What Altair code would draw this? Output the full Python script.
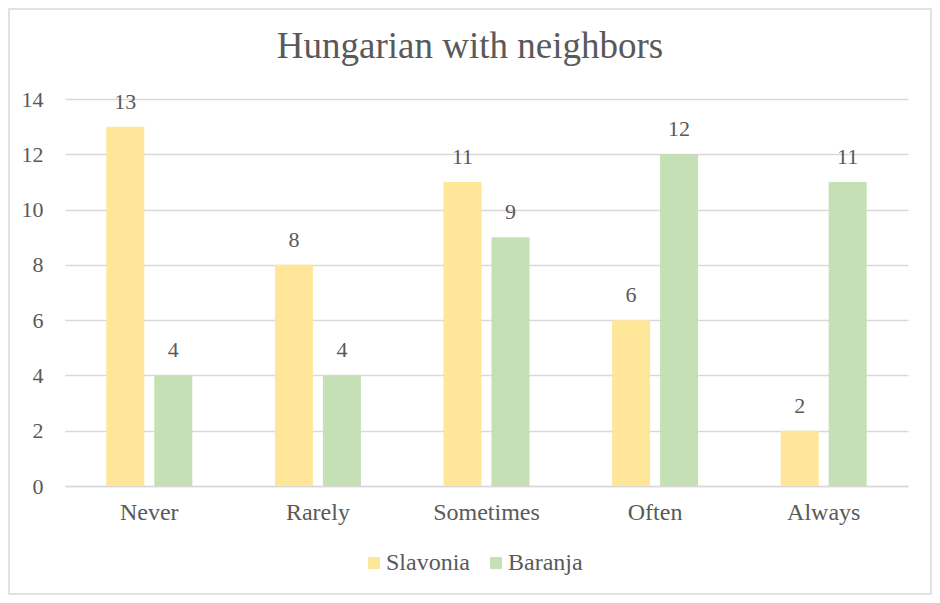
import altair as alt
import pandas as pd

categories = ["Never", "Rarely", "Sometimes", "Often", "Always"]
series = ["Slavonia", "Baranja"]
slavonia = [13, 8, 11, 6, 2]
baranja = [4, 4, 9, 12, 11]
colors = ["#FFE699", "#C5E0B4"]
title_text = "Hungarian with neighbors"

rows = []
for c, s, b in zip(categories, slavonia, baranja):
    rows.append({"cat": c, "series": "Slavonia", "value": s})
    rows.append({"cat": c, "series": "Baranja", "value": b})
df = pd.DataFrame(rows)

W, H = 843, 387
FONT = "Liberation Serif"
GREY = "#595959"

xenc = alt.X("cat:N", sort=categories, title=None,
             scale=alt.Scale(paddingInner=0.49, paddingOuter=0.245),
             axis=alt.Axis(labelAngle=0, ticks=False, domain=True, domainColor="#d9d9d9",
                           domainWidth=1.5,
                           labelFontSize=24, labelFont=FONT, labelColor=GREY, labelPadding=14))
xoff = alt.XOffset("series:N", sort=series,
                   scale=alt.Scale(paddingInner=0.208, paddingOuter=0))
yenc = alt.Y("value:Q", title=None,
             scale=alt.Scale(domain=[0, 14]),
             axis=alt.Axis(values=list(range(0, 15, 2)), ticks=False, domain=False,
                           grid=True, gridColor="#d9d9d9", gridWidth=1.5,
                           labelFontSize=22, labelFont=FONT, labelColor=GREY, labelPadding=22))

base = alt.Chart(df)
bars = base.mark_bar().encode(
    x=xenc, xOffset=xoff, y=yenc,
    color=alt.Color("series:N", sort=series,
                    scale=alt.Scale(domain=series, range=colors),
                    legend=alt.Legend(title=None, orient="none", legendX=297, legendY=452,
                                      direction="horizontal", columns=2, columnPadding=14,
                                      symbolType="square", symbolSize=144, symbolStrokeWidth=0,
                                      labelFontSize=24, labelFont=FONT, labelColor=GREY,
                                      labelOffset=0)),
)
labels = base.mark_text(baseline="alphabetic", dy=-18, fontSize=22, font=FONT, color=GREY).encode(
    x=alt.X("cat:N", sort=categories), xOffset=alt.XOffset("series:N", sort=series),
    y="value:Q", text="value:Q",
)
one = pd.DataFrame({"t": [title_text]})
border = alt.Chart(one).mark_rect(
    fill=None, stroke="#d9d9d9", strokeWidth=1.5
).encode(
    x=alt.value(-56), x2=alt.value(W + 23), y=alt.value(-90), y2=alt.value(H + 108)
)
title = alt.Chart(one).mark_text(
    fontSize=37, font=FONT, color=GREY, align="center", baseline="alphabetic"
).encode(
    text="t:N", x=alt.value(405), y=alt.value(-41)
)

chart = alt.layer(border, title, bars, labels).properties(
    width=W, height=H,
    autosize=alt.AutoSizeParams(type="none"),
    padding={"left": 57, "top": 91, "right": 24, "bottom": 109},
).configure(font=FONT).configure_view(stroke=None)

chart.save("out.html", embed_options={"renderer": "svg", "actions": False})
